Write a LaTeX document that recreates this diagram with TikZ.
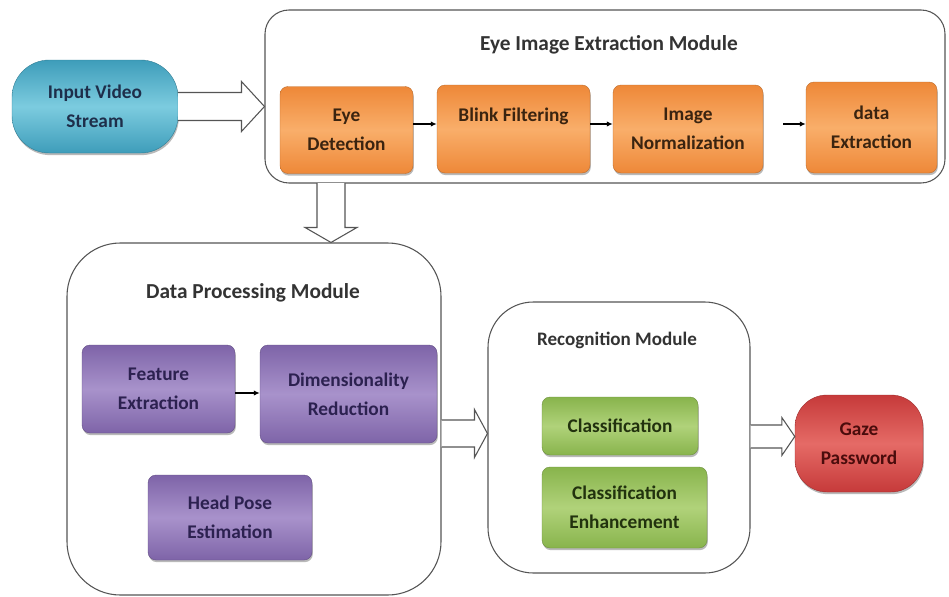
\documentclass[tikz,border=0pt]{standalone}
\usepackage{fontspec}
\setmainfont{Carlito}
\usetikzlibrary{calc,shadows,arrows.meta}
\definecolor{cyA}{HTML}{3E9DBA}\definecolor{cyB}{HTML}{7CCBDF}\definecolor{cyT}{HTML}{1E2E4A}
\definecolor{orA}{HTML}{EE8838}\definecolor{orB}{HTML}{F9AE6A}\definecolor{orT}{HTML}{3A2410}
\definecolor{puA}{HTML}{7E64A8}\definecolor{puB}{HTML}{A892CB}\definecolor{puT}{HTML}{2C2150}
\definecolor{grA}{HTML}{88B44C}\definecolor{grB}{HTML}{B0D27A}\definecolor{grT}{HTML}{22320E}
\definecolor{rdA}{HTML}{C63A3A}\definecolor{rdB}{HTML}{E56A66}\definecolor{rdT}{HTML}{4A0C0C}
\definecolor{lineC}{HTML}{555555}
\begin{document}
\begin{tikzpicture}[x=0.75pt,y=-0.75pt,
  sz/.style 2 args={minimum width=#1*0.75pt, minimum height=#2*0.75pt, inner sep=0pt},
  module/.style={draw=lineC, line width=0.8pt, fill=white},
  mtitle/.style={font=\fontsize{16}{19}\bfseries\selectfont, text=black!80},
  cbox/.style={rounded corners=6pt, align=center, inner sep=0pt,
     font=\fontsize{14.5}{21.5}\bfseries\selectfont,
     drop shadow={shadow xshift=0.6pt, shadow yshift=-1.6pt, opacity=0.55}},
  orbox/.style={cbox, draw=orA!80!black, line width=0.3pt, top color=orA, bottom color=orA, middle color=orB, text=orT},
  pubox/.style={cbox, draw=puA!80!black, line width=0.3pt, top color=puA, bottom color=puA, middle color=puB, text=puT},
  grbox/.style={cbox, draw=grA!80!black, line width=0.3pt, top color=grA, bottom color=grA, middle color=grB, text=grT},
  hollow/.style={draw=lineC, line width=0.8pt, fill=white, line join=miter},
  small/.style={-{Latex[length=4.5pt,width=4pt]}, line width=0.9pt, black}
]
\useasboundingbox (0,0) rectangle (949,596);

% Input
\node[cbox, sz={166}{93}, rounded corners=28pt, draw=cyA!80!black, line width=0.3pt,
  top color=cyA, bottom color=cyA, middle color=cyB, text=cyT] (inp) at (95,106.5) {Input Video\\Stream};

% Eye Image Extraction Module
\node[module, sz={680}{173}, rounded corners=18pt] (eyem) at (605,96.5) {};
\node[mtitle] (eyet) at (609,45) {Eye Image Extraction Module};
\node[orbox, sz={133}{87}] (ed) at (346.5,130) {Eye\\Detection};
\node[orbox, sz={153}{88}] (bf) at (513.5,129) {Blink Filtering\\\phantom{X}};
\node[orbox, sz={150}{88}] (in) at (688,129) {Image\\Normalization};
\node[orbox, sz={131}{91}] (de) at (871.5,127.5) {data\\Extraction};
\draw[small] ($(ed.east)+(0,-6)$) -- ($(bf.west)+(0,-5)$);
\draw[small] ($(bf.east)+(0,-5)$) -- ($(in.west)+(0,-5)$);
\draw[small] ($(in.east)+(20,-5)$) -- ($(de.west)+(0,-3.5)$);

% Data Processing Module
\node[module, sz={374}{352}, rounded corners=40pt] (dpm) at (254,419) {};
\node[mtitle] (dpt) at (253,293) {Data Processing Module};
\node[pubox, sz={153}{88}] (fe) at (158.5,389) {Feature\\Extraction};
\node[pubox, sz={177}{98}] (dr) at (348.5,394) {Dimensionality\\Reduction};
\node[pubox, sz={164}{85}] (hp) at (230,517.5) {Head Pose\\Estimation};
\draw[small] ($(fe.east)+(0,4)$) -- ($(dr.west)+(0,-1)$);

% Recognition Module
\node[module, sz={262}{271}, rounded corners=34pt] (rec) at (619,437.5) {};
\node[mtitle, font=\fontsize{14.3}{17}\bfseries\selectfont] (rect) at (617,340) {Recognition Module};
\node[grbox, sz={156}{58}] (cl) at (620,426) {Classification};
\node[grbox, sz={165}{81}] (ce) at (624.5,507.5) {Classification\\Enhancement};

% Gaze Password
\node[cbox, sz={128}{97}, rounded corners=24pt, draw=rdA!80!black, line width=0.3pt,
  top color=rdA, bottom color=rdA, middle color=rdB, text=rdT] (gp) at (859,443.5) {Gaze\\Password};

% hollow arrows
\coordinate (t1) at (eyem.west |- inp.east);
\draw[hollow] ($(inp.east)+(0,-14)$) -- ($(t1)+(-23,-14)$) -- ($(t1)+(-23,-25)$) -- (t1)
  -- ($(t1)+(-23,25)$) -- ($(t1)+(-23,14)$) -- ($(inp.east)+(0,14)$);
\coordinate (s2) at (331,183);
\coordinate (t2) at (s2 |- dpm.north);
\draw[hollow] ($(s2)+(-14,0)$) -- ($(t2)+(-14,-15)$) -- ($(t2)+(-26,-15)$) -- (t2)
  -- ($(t2)+(26,-15)$) -- ($(t2)+(14,-15)$) -- ($(s2)+(14,0)$);
\coordinate (s3) at (dpm.east |- 0,433.5);
\coordinate (t3) at (rec.west |- s3);
\draw[hollow] ($(s3)+(0,-13.5)$) -- ($(t3)+(-13,-13.5)$) -- ($(t3)+(-13,-24)$) -- (t3)
  -- ($(t3)+(-13,24)$) -- ($(t3)+(-13,13.5)$) -- ($(s3)+(0,13.5)$);
\coordinate (s4) at (rec.east |- 0,436.5);
\coordinate (t4) at (gp.west |- s4);
\draw[hollow] ($(s4)+(0,-11.5)$) -- ($(t4)+(-13,-11.5)$) -- ($(t4)+(-13,-19)$) -- (t4)
  -- ($(t4)+(-13,19)$) -- ($(t4)+(-13,11.5)$) -- ($(s4)+(0,11.5)$);
\end{tikzpicture}
\end{document}
